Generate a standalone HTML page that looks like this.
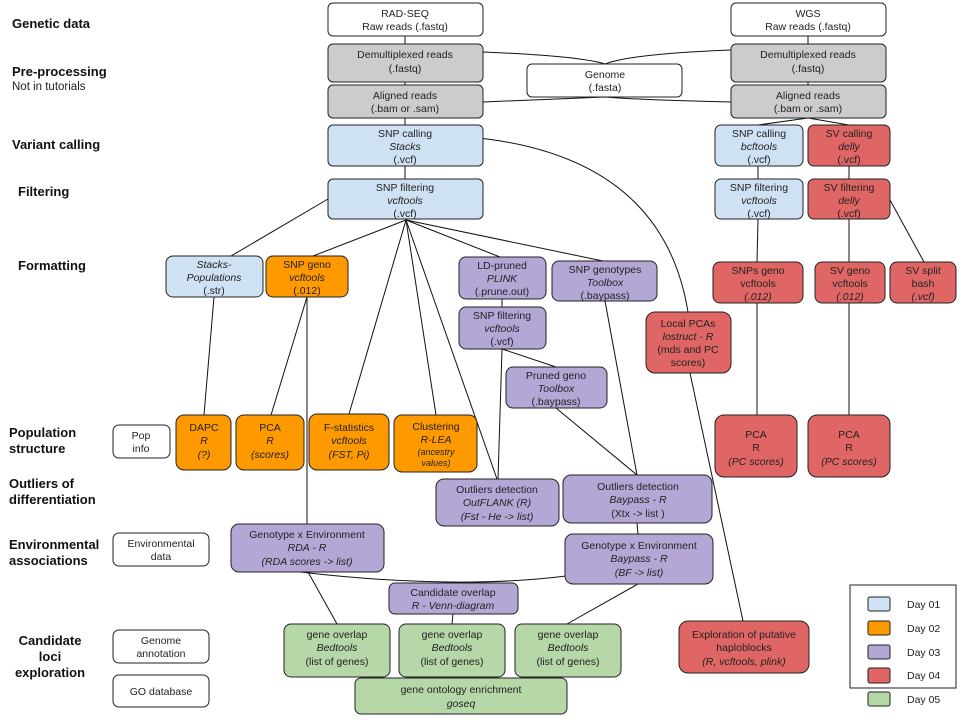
<!DOCTYPE html>
<html><head><meta charset="utf-8"><style>
html,body{margin:0;padding:0;background:#fff;}
svg{display:block;}
text{font-family:"Liberation Sans",Arial,sans-serif;font-size:10.5px;fill:#222;}
.b{font-weight:bold;font-size:13px;fill:#111;}
.i{font-style:italic;}
.s{font-size:9px;}
rect{stroke:#222;stroke-width:1;}
path,line{stroke:#111;stroke-width:1;fill:none;}
</style></head><body>
<svg width="960" height="720" viewBox="0 0 960 720">
<!-- connectors -->
<line x1="405" y1="36" x2="405" y2="44"/><line x1="405" y1="82" x2="405" y2="85"/><line x1="405" y1="118" x2="405" y2="125"/><line x1="405" y1="166" x2="405" y2="179"/>
<line x1="808" y1="36" x2="808" y2="44"/><line x1="808" y1="82" x2="808" y2="85"/>
<path d="M483,52 Q580,56 605,64 Q630,54 731,50"/>
<path d="M483,102 Q580,98 605,97 Q640,100 731,102"/>
<line x1="808" y1="118" x2="758" y2="125"/><line x1="808" y1="118" x2="849" y2="125"/>
<line x1="758" y1="166" x2="758" y2="179"/><line x1="849" y1="166" x2="849" y2="179"/>
<line x1="758" y1="219" x2="757" y2="262"/><line x1="849" y1="219" x2="849" y2="262"/>
<line x1="890" y1="200" x2="924" y2="262"/>
<line x1="757" y1="303" x2="757" y2="415"/><line x1="849" y1="303" x2="849" y2="415"/>
<path d="M432,135 Q660,140 688,312"/>
<line x1="690" y1="373" x2="743" y2="621"/>
<line x1="328" y1="199" x2="231" y2="256"/>
<line x1="406" y1="220" x2="313" y2="256"/>
<line x1="406" y1="220" x2="349" y2="414"/>
<line x1="406" y1="220" x2="436" y2="415"/>
<line x1="406" y1="220" x2="497" y2="479"/>
<line x1="406" y1="220" x2="500" y2="257"/>
<line x1="406" y1="220" x2="603" y2="261"/>
<line x1="214" y1="297" x2="204" y2="415"/>
<line x1="307" y1="297" x2="271" y2="415"/>
<line x1="307" y1="297" x2="307" y2="524"/>
<line x1="502" y1="299" x2="502" y2="307"/>
<line x1="502" y1="349" x2="556" y2="367"/>
<line x1="502" y1="349" x2="498" y2="479"/>
<line x1="556" y1="408" x2="637" y2="475"/>
<line x1="605" y1="301" x2="637" y2="475"/>
<line x1="637" y1="523" x2="638" y2="534"/>
<path d="M300,572 Q455,590 566,576"/>
<line x1="308" y1="572" x2="337" y2="624"/>
<line x1="453" y1="614" x2="452" y2="624"/>
<line x1="638" y1="584" x2="567" y2="624"/>

<!-- left labels -->
<text class="b" x="12" y="28">Genetic data</text>
<text class="b" x="12" y="76">Pre-processing</text>
<text x="12" y="90" style="font-size:11.5px">Not in tutorials</text>
<text class="b" x="12" y="149">Variant calling</text>
<text class="b" x="18" y="196">Filtering</text>
<text class="b" x="18" y="270">Formatting</text>
<text class="b" x="9" y="437">Population</text>
<text class="b" x="9" y="453">structure</text>
<text class="b" x="9" y="488">Outliers of</text>
<text class="b" x="9" y="504">differentiation</text>
<text class="b" x="9" y="549">Environmental</text>
<text class="b" x="9" y="565">associations</text>
<text class="b" x="50" y="645" text-anchor="middle">Candidate</text>
<text class="b" x="50" y="661" text-anchor="middle">loci</text>
<text class="b" x="50" y="677" text-anchor="middle">exploration</text>

<!-- boxes -->
<g text-anchor="middle">
<rect x="328" y="3" width="155" height="33" rx="5" fill="#fff"/><text x="405" y="17">RAD-SEQ</text><text x="405" y="30">Raw reads (.fastq)</text>
<rect x="731" y="3" width="155" height="33" rx="5" fill="#fff"/><text x="808" y="17">WGS</text><text x="808" y="30">Raw reads (.fastq)</text>
<rect x="328" y="44" width="155" height="38" rx="5" fill="#cccccc"/><text x="405" y="58">Demultiplexed reads</text><text x="405" y="72">(.fastq)</text>
<rect x="731" y="44" width="155" height="38" rx="5" fill="#cccccc"/><text x="808" y="58">Demultiplexed reads</text><text x="808" y="72">(.fastq)</text>
<rect x="527" y="64" width="155" height="33" rx="5" fill="#fff"/><text x="605" y="78">Genome</text><text x="605" y="91">(.fasta)</text>
<rect x="328" y="85" width="155" height="33" rx="5" fill="#cccccc"/><text x="405" y="99">Aligned reads</text><text x="405" y="112">(.bam or .sam)</text>
<rect x="731" y="85" width="155" height="33" rx="5" fill="#cccccc"/><text x="808" y="99">Aligned reads</text><text x="808" y="112">(.bam or .sam)</text>
<rect x="328" y="125" width="155" height="41" rx="5" fill="#cfe2f3"/><text x="405" y="137">SNP calling</text><text class="i" x="405" y="150">Stacks</text><text x="405" y="163">(.vcf)</text>
<rect x="328" y="179" width="155" height="40" rx="5" fill="#cfe2f3"/><text x="405" y="191">SNP filtering</text><text class="i" x="405" y="204">vcftools</text><text x="405" y="217">(.vcf)</text>
<rect x="715" y="125" width="88" height="41" rx="6" fill="#cfe2f3"/><text x="759" y="137">SNP calling</text><text class="i" x="759" y="150">bcftools</text><text x="759" y="163">(.vcf)</text>
<rect x="808" y="125" width="82" height="41" rx="6" fill="#e06666"/><text x="849" y="137">SV calling</text><text class="i" x="849" y="150">delly</text><text x="849" y="163">(.vcf)</text>
<rect x="715" y="179" width="88" height="40" rx="6" fill="#cfe2f3"/><text x="759" y="191">SNP filtering</text><text class="i" x="759" y="204">vcftools</text><text x="759" y="217">(.vcf)</text>
<rect x="808" y="179" width="82" height="40" rx="6" fill="#e06666"/><text x="849" y="191">SV filtering</text><text class="i" x="849" y="204">delly</text><text x="849" y="217">(.vcf)</text>

<rect x="166" y="256" width="97" height="41" rx="7" fill="#cfe2f3"/><text class="i" x="214" y="268">Stacks-</text><text class="i" x="214" y="281">Populations</text><text x="214" y="294">(.str)</text>
<rect x="266" y="256" width="82" height="41" rx="7" fill="#ff9900"/><text x="307" y="268">SNP geno</text><text class="i" x="307" y="281">vcftools</text><text x="307" y="294">(.012)</text>
<rect x="459" y="257" width="87" height="42" rx="7" fill="#b4a7d6"/><text x="502" y="269">LD-pruned</text><text class="i" x="502" y="282">PLINK</text><text x="502" y="295">(.prune.out)</text>
<rect x="552" y="261" width="105" height="40" rx="7" fill="#b4a7d6"/><text x="605" y="273">SNP genotypes</text><text class="i" x="605" y="286">Toolbox</text><text x="605" y="299">(.baypass)</text>
<rect x="459" y="307" width="87" height="42" rx="7" fill="#b4a7d6"/><text x="502" y="319">SNP filtering</text><text class="i" x="502" y="332">vcftools</text><text x="502" y="345">(.vcf)</text>
<rect x="506" y="367" width="101" height="41" rx="7" fill="#b4a7d6"/><text x="556" y="379">Pruned geno</text><text class="i" x="556" y="392">Toolbox</text><text x="556" y="405">(.baypass)</text>
<rect x="646" y="312" width="85" height="61" rx="9" fill="#e06666"/><text x="688" y="327">Local PCAs</text><text class="i" x="688" y="340">lostruct - R</text><text x="688" y="353">(mds and PC</text><text x="688" y="366">scores)</text>
<rect x="713" y="262" width="90" height="41" rx="7" fill="#e06666"/><text x="758" y="274">SNPs geno</text><text x="758" y="287">vcftools</text><text class="i" x="758" y="300">(.012)</text>
<rect x="815" y="262" width="70" height="41" rx="7" fill="#e06666"/><text x="850" y="274">SV geno</text><text x="850" y="287">vcftools</text><text class="i" x="850" y="300">(.012)</text>
<rect x="890" y="262" width="66" height="41" rx="7" fill="#e06666"/><text x="923" y="274">SV split</text><text x="923" y="287">bash</text><text class="i" x="923" y="300">(.vcf)</text>

<rect x="113" y="425" width="57" height="33" rx="6" fill="#fff"/><text x="141" y="439">Pop</text><text x="141" y="452">info</text>
<rect x="176" y="415" width="55" height="55" rx="8" fill="#ff9900"/><text x="204" y="431">DAPC</text><text class="i" x="204" y="444">R</text><text class="i" x="204" y="458">(?)</text>
<rect x="236" y="415" width="68" height="55" rx="8" fill="#ff9900"/><text x="270" y="431">PCA</text><text class="i" x="270" y="444">R</text><text class="i" x="270" y="458">(scores)</text>
<rect x="309" y="414" width="80" height="56" rx="8" fill="#ff9900"/><text x="349" y="431">F-statistics</text><text class="i" x="349" y="444">vcftools</text><text class="i" x="349" y="458">(FST, Pi)</text>
<rect x="394" y="415" width="83" height="57" rx="8" fill="#ff9900"/><text x="436" y="430">Clustering</text><text class="i" x="436" y="443">R-LEA</text><text class="i s" x="436" y="455">(ancestry</text><text class="i s" x="436" y="466">values)</text>
<rect x="715" y="415" width="82" height="62" rx="9" fill="#e06666"/><text x="756" y="438">PCA</text><text x="756" y="451">R</text><text class="i" x="756" y="465">(PC scores)</text>
<rect x="808" y="415" width="82" height="62" rx="9" fill="#e06666"/><text x="849" y="438">PCA</text><text x="849" y="451">R</text><text class="i" x="849" y="465">(PC scores)</text>

<rect x="436" y="479" width="123" height="47" rx="8" fill="#b4a7d6"/><text x="497" y="493">Outliers detection</text><text class="i" x="497" y="506">OutFLANK (R)</text><text class="i" x="497" y="520">(Fst - He -&gt; list)</text>
<rect x="563" y="475" width="149" height="48" rx="8" fill="#b4a7d6"/><text x="638" y="490">Outliers detection</text><text class="i" x="638" y="503">Baypass - R</text><text x="638" y="517">(Xtx -&gt; list )</text>

<rect x="113" y="533" width="96" height="33" rx="6" fill="#fff"/><text x="161" y="547">Environmental</text><text x="161" y="560">data</text>
<rect x="231" y="524" width="153" height="48" rx="8" fill="#b4a7d6"/><text x="307" y="538">Genotype x Environment</text><text class="i" x="307" y="551">RDA - R</text><text class="i" x="307" y="565">(RDA scores -&gt; list)</text>
<rect x="565" y="534" width="148" height="50" rx="8" fill="#b4a7d6"/><text x="639" y="549">Genotype x Environment</text><text class="i" x="639" y="562">Baypass - R</text><text class="i" x="639" y="576">(BF -&gt; list)</text>
<rect x="389" y="583" width="129" height="31" rx="6" fill="#b4a7d6"/><text x="453" y="596">Candidate overlap</text><text class="i" x="453" y="609">R - Venn-diagram</text>

<rect x="113" y="630" width="96" height="33" rx="6" fill="#fff"/><text x="161" y="644">Genome</text><text x="161" y="657">annotation</text>
<rect x="113" y="675" width="96" height="32" rx="6" fill="#fff"/><text x="161" y="695">GO database</text>
<rect x="284" y="624" width="106" height="53" rx="7" fill="#b6d7a8"/><text x="337" y="638">gene overlap</text><text class="i" x="337" y="651">Bedtools</text><text x="337" y="665">(list of genes)</text>
<rect x="399" y="624" width="106" height="53" rx="7" fill="#b6d7a8"/><text x="452" y="638">gene overlap</text><text class="i" x="452" y="651">Bedtools</text><text x="452" y="665">(list of genes)</text>
<rect x="515" y="624" width="106" height="53" rx="7" fill="#b6d7a8"/><text x="568" y="638">gene overlap</text><text class="i" x="568" y="651">Bedtools</text><text x="568" y="665">(list of genes)</text>
<rect x="355" y="678" width="212" height="36" rx="6" fill="#b6d7a8"/><text x="461" y="693">gene ontology enrichment</text><text class="i" x="461" y="707">goseq</text>
<rect x="679" y="621" width="130" height="52" rx="9" fill="#e06666"/><text x="744" y="638">Exploration of putative</text><text x="744" y="651">haploblocks</text><text class="i" x="744" y="665">(R, vcftools, plink)</text>
</g>

<!-- legend -->
<rect x="850" y="585" width="106" height="103" fill="#fff"/>
<rect x="868" y="597" width="22" height="14" rx="2" fill="#cfe2f3"/><text x="907" y="608">Day 01</text>
<rect x="868" y="621" width="22" height="14" rx="2" fill="#ff9900"/><text x="907" y="632">Day 02</text>
<rect x="868" y="645" width="22" height="14" rx="2" fill="#b4a7d6"/><text x="907" y="656">Day 03</text>
<rect x="868" y="668" width="22" height="15" rx="2" fill="#e06666"/><text x="907" y="679">Day 04</text>
<rect x="868" y="692" width="22" height="14" rx="2" fill="#b6d7a8"/><text x="907" y="703">Day 05</text>
</svg>
</body></html>
